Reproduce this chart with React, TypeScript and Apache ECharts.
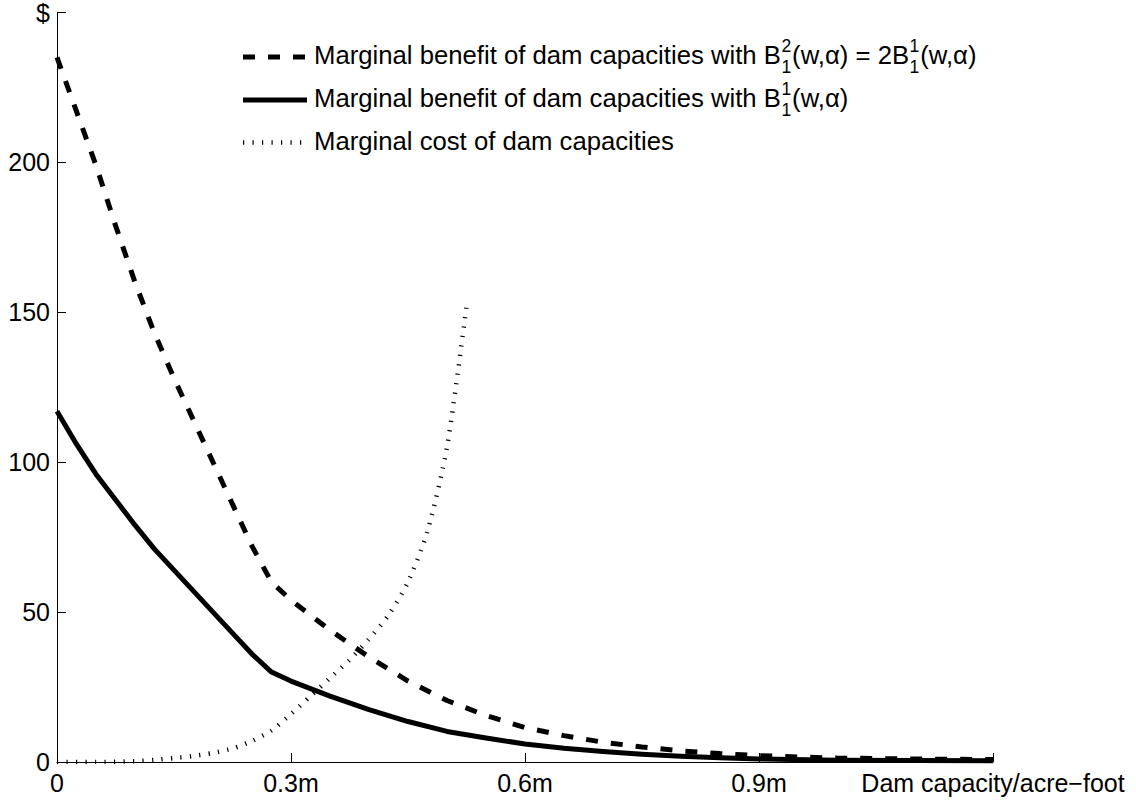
import React, { useEffect, useRef } from "react";
import * as echarts from "echarts";

// ---- data ----
const benefitX = [0, 0.025, 0.05, 0.075, 0.1, 0.125, 0.15, 0.175, 0.2, 0.225, 0.25, 0.275, 0.3, 0.35, 0.4, 0.45, 0.5, 0.55, 0.6, 0.65, 0.7, 0.75, 0.8, 0.85, 0.9, 1.0, 1.1, 1.2];
const benefitB1 = [117, 106, 96, 87.5, 79, 71, 64, 57, 50, 43, 36, 30, 27, 22, 17.5, 13.5, 10.2, 8, 6, 4.6, 3.5, 2.6, 1.9, 1.4, 1.0, 0.6, 0.5, 0.4];
const benefitB2 = [235, 217, 199, 179, 160, 143, 128, 114, 100, 86, 72, 60, 54, 44, 35, 27, 20.5, 15.5, 11.5, 8.8, 6.6, 5, 3.7, 2.8, 2.1, 1.3, 1, 0.8];
const costX = [0, 0.05, 0.1, 0.125, 0.15, 0.175, 0.2, 0.225, 0.25, 0.275, 0.3, 0.325, 0.35, 0.375, 0.4, 0.425, 0.45, 0.475, 0.5, 0.525];
const costValues = [0, 0, 0.3, 0.7, 1.3, 2, 3, 4.5, 7, 10.5, 16, 22, 28, 34, 41, 49, 60, 77, 105, 152];

const xTickLabels: Record<string, string> = {
  "0": "0",
  "0.3": "0.3m",
  "0.6": "0.6m",
  "0.9": "0.9m",
  "1.2": "Dam capacity/acre\u2212foot",
};
const yTopLabel = "$";

type Part = { t?: string; sup?: string; sub?: string };
const legendRow1: Part[] = [
  { t: "Marginal benefit of dam capacities with B" },
  { sup: "2", sub: "1" },
  { t: "(w,\u03b1) = 2B" },
  { sup: "1", sub: "1" },
  { t: "(w,\u03b1)" },
];
const legendRow2: Part[] = [
  { t: "Marginal benefit of dam capacities with B" },
  { sup: "1", sub: "1" },
  { t: "(w,\u03b1)" },
];
const legendRow3: Part[] = [{ t: "Marginal cost of dam capacities" }];

const FONT_FAMILY = "'Liberation Sans', Arial, Helvetica, sans-serif";
const FS = 25;
const FS_LEG = 25.7;
const FS_SMALL = 17.5;

function measure(text: string, size: number): number {
  const c = document.createElement("canvas").getContext("2d");
  if (!c) return text.length * size * 0.55;
  c.font = `${size}px ${FONT_FAMILY}`;
  return c.measureText(text).width;
}

function buildRow(parts: Part[], x0: number, baseline: number): any[] {
  const out: any[] = [];
  let x = x0;
  const central = 0.3465;
  for (const p of parts) {
    if (p.t) {
      out.push({
        type: "text",
        x,
        y: baseline - central * FS_LEG,
        style: {
          text: p.t,
          font: `${FS_LEG}px ${FONT_FAMILY}`,
          fill: "#000",
          align: "left",
          verticalAlign: "middle",
        },
      });
      x += measure(p.t, FS_LEG);
    } else {
      const w = Math.max(measure(p.sup || "", FS_SMALL), measure(p.sub || "", FS_SMALL));
      out.push({
        type: "text",
        x: x + 0.5,
        y: baseline - 11.5 - central * FS_SMALL,
        style: { text: p.sup, font: `${FS_SMALL}px ${FONT_FAMILY}`, fill: "#000", align: "left", verticalAlign: "middle" },
      });
      out.push({
        type: "text",
        x: x + 0.5,
        y: baseline + 9.5 - central * FS_SMALL,
        style: { text: p.sub, font: `${FS_SMALL}px ${FONT_FAMILY}`, fill: "#000", align: "left", verticalAlign: "middle" },
      });
      x += w + 1.5;
    }
  }
  return out;
}

export default function App() {
  const ref = useRef<HTMLDivElement>(null);
  useEffect(() => {
    if (!ref.current) return;
    const chart = echarts.init(ref.current, null, { renderer: "svg" });
    const textStyle = { fontFamily: FONT_FAMILY, fontSize: FS, color: "#000" };
    const lx1 = 243;
    const lx2 = 307;
    const tx = 314;
    const rows = [57, 100, 142.5];
    const graphic: any[] = [
      { type: "line", shape: { x1: lx1, y1: rows[0], x2: lx2, y2: rows[0] }, style: { stroke: "#000", lineWidth: 5, lineDash: [12, 13], lineCap: "butt" } },
      { type: "line", shape: { x1: lx1, y1: rows[1], x2: lx2, y2: rows[1] }, style: { stroke: "#000", lineWidth: 5, lineCap: "butt" } },
      { type: "line", shape: { x1: lx1, y1: rows[2], x2: lx2, y2: rows[2] }, style: { stroke: "#000", lineWidth: 4.5, lineDash: [1.2, 8.3], lineCap: "butt" } },
      ...buildRow(legendRow1, tx, rows[0] + 7),
      ...buildRow(legendRow2, tx, rows[1] + 7),
      ...buildRow(legendRow3, tx, rows[2] + 7),
    ];
    chart.setOption({
      animation: false,
      backgroundColor: "#fff",
      textStyle: { fontFamily: FONT_FAMILY },
      grid: { left: 57, right: 143, top: 12, bottom: 41, containLabel: false },
      xAxis: {
        type: "value",
        min: 0,
        max: 1.2,
        interval: 0.3,
        axisLine: { show: true, onZero: false, lineStyle: { color: "#000", width: 1 } },
        axisTick: { show: true, inside: true, length: 9, lineStyle: { color: "#000", width: 1 } },
        splitLine: { show: false },
        axisLabel: {
          ...textStyle,
          margin: 8,
          showMinLabel: true,
          showMaxLabel: true,
          hideOverlap: false,
          formatter: (v: number) => xTickLabels[String(Math.round(v * 10) / 10)] ?? "",
        },
      },
      yAxis: {
        type: "value",
        min: 0,
        max: 250,
        interval: 50,
        axisLine: { show: true, onZero: false, lineStyle: { color: "#000", width: 1 } },
        axisTick: { show: true, inside: true, length: 9, lineStyle: { color: "#000", width: 1 } },
        splitLine: { show: false },
        axisLabel: {
          ...textStyle,
          margin: 7,
          showMinLabel: true,
          showMaxLabel: true,
          formatter: (v: number) => (v === 250 ? yTopLabel : String(v)),
        },
      },
      series: [
        {
          name: "Marginal cost of dam capacities",
          type: "line",
          showSymbol: false,
          smooth: 0.25,
          data: costX.map((x, i) => [x, costValues[i]]),
          lineStyle: { color: "#000", width: 4.5, type: [1.2, 8.3], cap: "butt" },
          z: 3,
        },
        {
          name: "Marginal benefit with B1",
          type: "line",
          showSymbol: false,
          data: benefitX.map((x, i) => [x, benefitB1[i]]),
          lineStyle: { color: "#000", width: 5, type: "solid", join: "round" },
          z: 4,
        },
        {
          name: "Marginal benefit with B2",
          type: "line",
          showSymbol: false,
          data: benefitX.map((x, i) => [x, benefitB2[i]]),
          lineStyle: { color: "#000", width: 5, type: [12, 13], cap: "butt" },
          z: 5,
        },
      ],
      graphic,
    });
    return () => chart.dispose();
  }, []);
  return (
    <div
      ref={ref}
      style={{ position: "fixed", left: 0, top: 0, width: 1136, height: 803, background: "#fff" }}
    />
  );
}
